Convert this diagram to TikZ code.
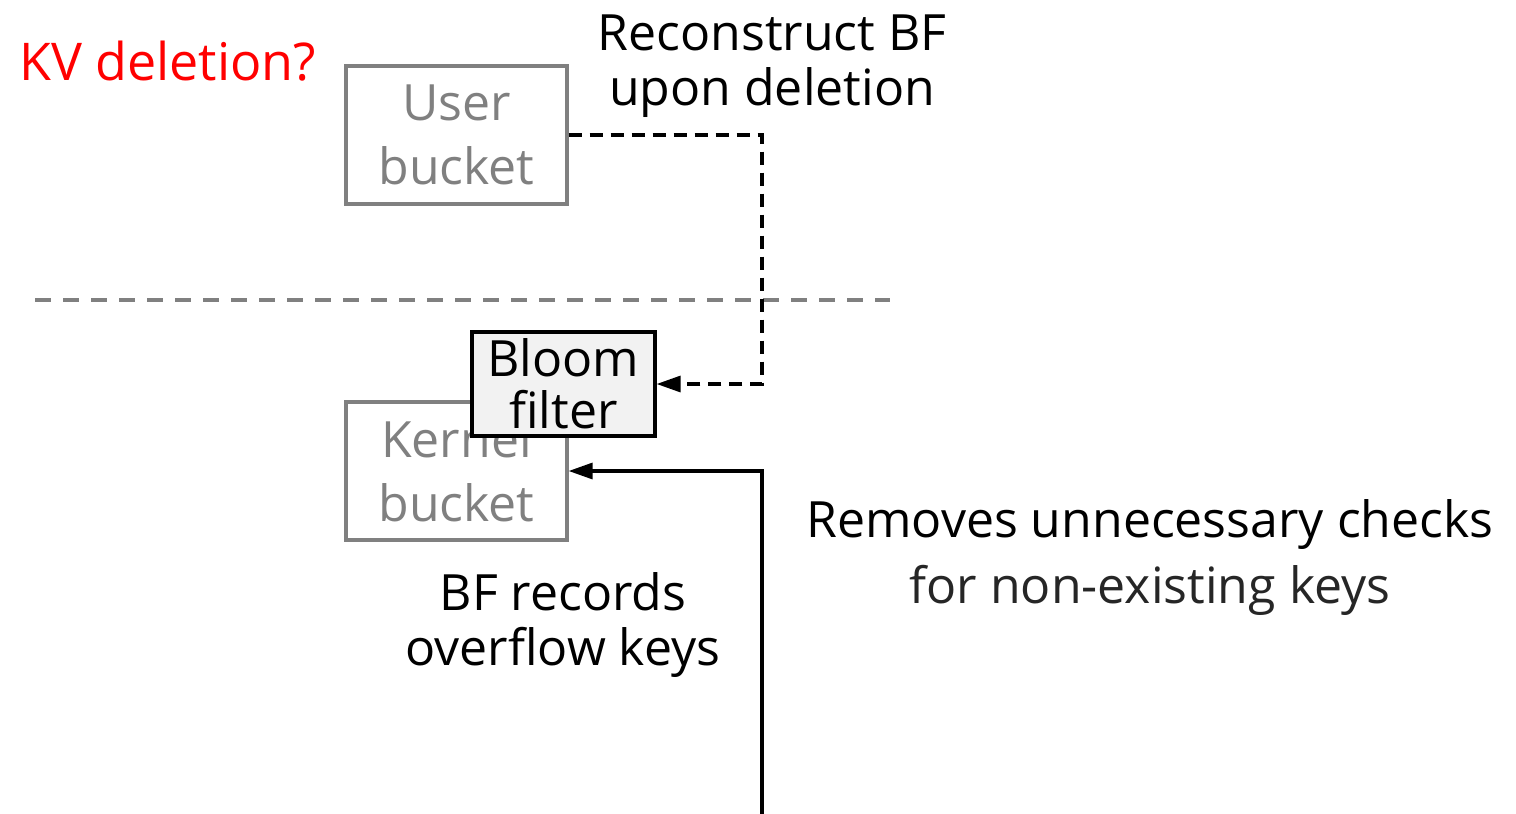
\documentclass[tikz,border=0pt]{standalone}
\usepackage{fontspec}
\setmainfont{Open Sans}
\usetikzlibrary{arrows.meta}
\definecolor{boxgray}{HTML}{808080}
\definecolor{bffill}{HTML}{F2F2F2}
\definecolor{softblack}{HTML}{262626}
\begin{document}
\begin{tikzpicture}[x=1pt,y=-1pt,
  txt/.style={font=\fontsize{50}{56}\selectfont, inner sep=0pt, anchor=base},
  bucket/.style={draw=boxgray, line width=3.2pt, text=boxgray, align=center,
    minimum width=221pt, minimum height=138pt, inner sep=0pt,
    font=\fontsize{50}{64}\selectfont},
  bfbox/.style={draw=black, line width=3.2pt, fill=bffill, align=center,
    minimum width=183pt, minimum height=104pt, inner sep=0pt,
    font=\fontsize{50}{52}\selectfont},
  link/.style={line width=3.2pt, -{Triangle[length=24pt,width=16pt]}},
  sep/.style={draw=boxgray, line width=3.2pt, dash pattern=on 16pt off 12pt}
]
\useasboundingbox (0,0) rectangle (1516,814);

% title
\node[txt, anchor=base west, text=red, font=\fontsize{52}{56}\selectfont] (title) at (19,80) {KV deletion?};

% user / kernel separator
\coordinate (sepL) at (35,300);
\coordinate (sepR) at (890,300);
\draw[sep] (sepL) -- (sepR);

% buckets and the Bloom filter on top
\node[bucket] (user) at (456.5,135) {User\\bucket};
\node[bucket] (kernel) at (456.5,471) {Kernel\\bucket};
\node[bfbox] (bloom) at (563.5,384) {Bloom\\filter};

% connectors
\coordinate (bend) at (762,384);
\coordinate (src) at (762,814);
\draw[link, dash pattern=on 13pt off 8pt] (user.east) -| (bend) -- (bloom.east);
\draw[link] (src) |- (kernel.east);

% annotations
\node[txt] (rc1) at (772,50) {Reconstruct BF};
\node[txt] (rc2) at (772,105) {upon deletion};
\node[txt] (bf1) at (563,610) {BF records};
\node[txt] (bf2) at (563,665) {overflow keys};
\node[txt] (rm1) at (1150,537) {Removes unnecessary checks};
\node[txt, text=softblack] (rm2) at (1150,603) {for non-existing keys};
\end{tikzpicture}
\end{document}
